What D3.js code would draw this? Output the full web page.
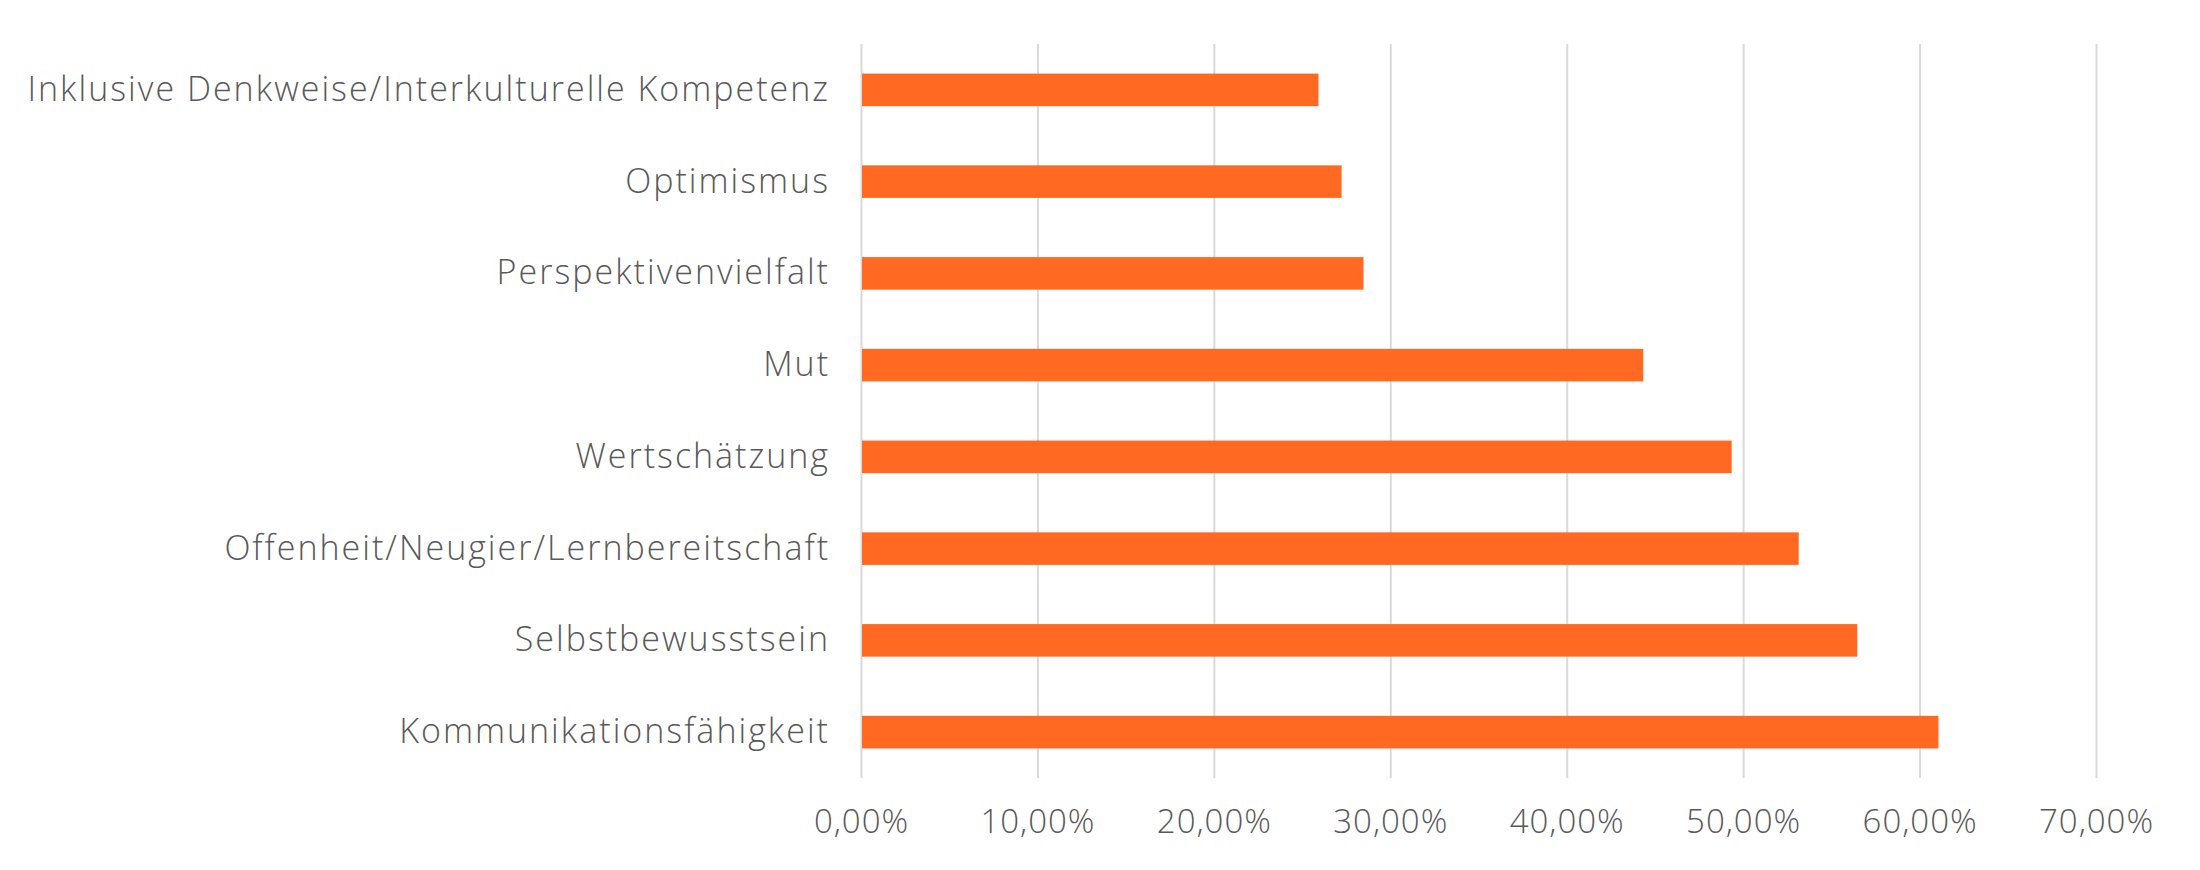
<!DOCTYPE html>
<html>
<head>
<meta charset="utf-8">
<script src="https://cdn.jsdelivr.net/npm/d3@7"></script>
<style>
  html, body { margin: 0; padding: 0; background: #ffffff; }
  svg text { font-family: "Open Sans", "Lato", sans-serif; font-weight: 300; fill: #595959; }
</style>
</head>
<body>
<div id="chart"></div>
<script>

    var categories = [
        "Inklusive Denkweise/Interkulturelle Kompetenz",
        "Optimismus",
        "Perspektivenvielfalt",
        "Mut",
        "Wertschätzung",
        "Offenheit/Neugier/Lernbereitschaft",
        "Selbstbewusstsein",
        "Kommunikationsfähigkeit"
    ];
    var values = [0.2593, 0.2724, 0.2848, 0.4434, 0.4935, 0.5315, 0.5647, 0.6107];
    var xTicks = [0, 0.1, 0.2, 0.3, 0.4, 0.5, 0.6, 0.7];

    var width = 2200, height = 870;
    var margin = {top: 44, right: 104, bottom: 92, left: 861};

    var de = d3.formatLocale({decimal: ",", thousands: ".", grouping: [3], currency: ["", " €"]});
    var pct = de.format(".2%");

    var svg = d3.select("#chart").append("svg")
        .attr("width", width)
        .attr("height", height);

    var x = d3.scaleLinear()
        .domain([0, 0.7])
        .range([margin.left, width - margin.right]);

    var y = d3.scaleBand()
        .domain(categories)
        .range([margin.top, height - margin.bottom])
        .paddingInner(0.645)
        .paddingOuter(0.3225);

    var plotH = height - margin.bottom - margin.top;

    // gridlines + tick labels
    var xAxis = svg.append("g")
        .attr("transform", "translate(0," + (height - margin.bottom) + ")")
        .call(d3.axisBottom(x).tickValues(xTicks).tickFormat(pct)
            .tickSizeInner(-plotH).tickSizeOuter(0).tickPadding(32));
    xAxis.select(".domain").remove();
    xAxis.selectAll("line").attr("stroke", "#d9d9d9").attr("stroke-width", 2);
    xAxis.selectAll("text")
        .style("font-size", "33px")
        .style("letter-spacing", "1px");

    // category labels (Raleway in the original is wider, so space them out)
    var yAxis = svg.append("g")
        .attr("transform", "translate(" + margin.left + ",0)")
        .call(d3.axisLeft(y).tickSize(0).tickPadding(31));
    yAxis.select(".domain").remove();
    yAxis.selectAll("text")
        .style("font-size", "34px")
        .style("letter-spacing", "2px");

    // bars
    svg.append("g").selectAll("rect")
        .data(values)
        .enter().append("rect")
        .attr("x", x(0) + 1)
        .attr("y", function (d, i) { return y(categories[i]); })
        .attr("width", function (d) { return x(d) - x(0) - 1; })
        .attr("height", y.bandwidth())
        .attr("fill", "#ff6922");

</script>
</body>
</html>
